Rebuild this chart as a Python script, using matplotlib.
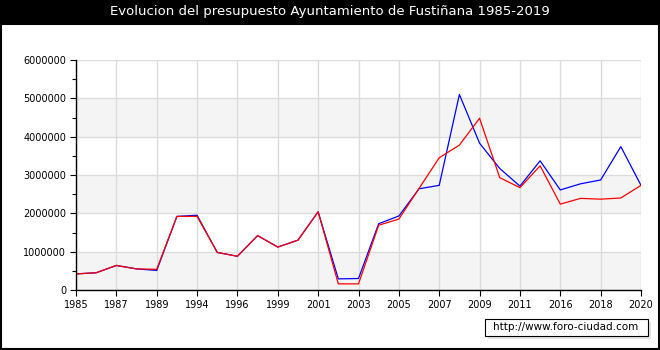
import matplotlib
matplotlib.use("Agg")
import matplotlib.pyplot as plt
from matplotlib.patches import Rectangle
from matplotlib.ticker import MultipleLocator, FuncFormatter

# Datos
years = [1985, 1986, 1987, 1988, 1989, 1991, 1994, 1995, 1996, 1998, 1999,
         2000, 2001, 2002, 2003, 2004, 2005, 2006, 2007, 2008, 2009, 2010,
         2011, 2013, 2016, 2017, 2018, 2019, 2020]
blue_values = [420000, 450000, 640000, 550000, 510000, 1920000, 1950000, 980000,
               880000, 1420000, 1120000, 1300000, 2040000, 290000, 300000,
               1730000, 1930000, 2640000, 2730000, 5100000, 3830000, 3170000,
               2710000, 3370000, 2610000, 2770000, 2870000, 3740000, 2730000]
red_values = [420000, 450000, 640000, 550000, 540000, 1920000, 1920000, 980000,
              880000, 1420000, 1120000, 1300000, 2040000, 160000, 160000,
              1690000, 1850000, 2650000, 3450000, 3780000, 4480000, 2930000,
              2670000, 3240000, 2240000, 2390000, 2370000, 2400000, 2730000]

W, H = 660, 350
fig = plt.figure(figsize=(W / 100, H / 100), dpi=100)
fig.patch.set_facecolor("white")

# barra del titulo y marco
fig.add_artist(Rectangle((0, 1 - 24 / H), 1, 24 / H, transform=fig.transFigure,
                         facecolor="black", edgecolor="none"))
fig.add_artist(Rectangle((0.5 / W, 1 / H), (W - 2) / W, (H - 25) / H,
                         transform=fig.transFigure, facecolor="none",
                         edgecolor="black", linewidth=1.5))
fig.text(0.5, 1 - 12 / H, "Evolucion del presupuesto Ayuntamiento de Fustiñana 1985-2019",
         color="white", ha="center", va="center", fontsize=9.5)

ax = fig.add_axes([76 / W, 60 / H, (641 - 76) / W, 230 / H])
x = list(range(len(years)))

for lo in (0, 2000000, 4000000):
    ax.axhspan(lo, lo + 1000000, color="#f4f4f4", zorder=0, lw=0)

ax.plot(x, blue_values, color="blue", lw=0.9, zorder=3)
ax.plot(x, red_values, color="red", lw=0.9, zorder=4)

ax.set_xlim(0, len(years) - 1)
ax.set_ylim(0, 6000000)
ax.set_xticks(x[::2])
ax.set_xticklabels([str(y) for y in years[::2]])
ax.yaxis.set_major_locator(MultipleLocator(1000000))
ax.yaxis.set_minor_locator(MultipleLocator(500000))
ax.yaxis.set_major_formatter(FuncFormatter(lambda v, p: str(int(v))))

ax.grid(True, which="major", color="#dcdcdc", lw=1, zorder=1)
ax.set_axisbelow(True)
for s in ("top", "right"):
    ax.spines[s].set_visible(False)
for s in ("left", "bottom"):
    ax.spines[s].set_linewidth(1)
    ax.spines[s].set_zorder(5)

ax.tick_params(axis="both", which="major", length=4, width=0.8, labelsize=7,
               direction="out", pad=3)
ax.tick_params(axis="y", which="minor", length=3, width=0.8)
ax.set_facecolor("white")

# marca de agua
fig.add_artist(Rectangle((488 / W, (H - 339) / H), 163 / W, 17 / H,
                         transform=fig.transFigure, facecolor="#e6e6e6",
                         edgecolor="none"))
fig.add_artist(Rectangle((485 / W, (H - 336) / H), 163 / W, 17 / H,
                         transform=fig.transFigure, facecolor="white",
                         edgecolor="black", linewidth=0.8))
fig.text(566 / W, (H - 327.5) / H, "http://www.foro-ciudad.com", ha="center",
         va="center", fontsize=7.5)

fig.savefig("out.png", dpi=100)
